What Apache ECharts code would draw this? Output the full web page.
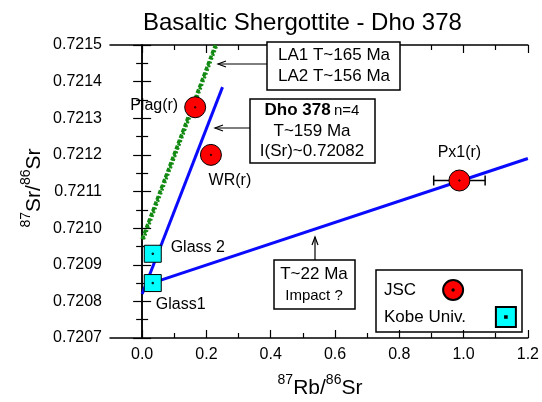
<!DOCTYPE html>
<html>
<head>
<meta charset="utf-8">
<script src="https://cdn.jsdelivr.net/npm/echarts@6/dist/echarts.min.js"></script>
<style>
  html, body { margin: 0; padding: 0; background: #fff; }
  #main { width: 542px; height: 402px; }
</style>
</head>
<body>
<div id="main"></div>
<script>
// data
const jscNames = ['Plag(r)', 'WR(r)', 'Px1(r)'];
const jscRbSr = [0.165, 0.214, 0.987];
const jscSrSr = [0.72133, 0.72120, 0.72113];
const jscRbErr = [0, 0, 0.08];

const kobeNames = ['Glass 2', 'Glass1'];
const kobeRbSr = [0.033, 0.033];
const kobeSrSr = [0.72093, 0.72085];

// isochron lines (end points)
const iso159X = [0.0, 0.25];
const iso159Y = [0.72082, 0.721385];
const iso22X = [0.03, 1.2];
const iso22Y = [0.72085, 0.72119];
const la1X = [0.0, 0.228];
const la1Y = [0.72097, 0.7215];
const la2X = [0.004, 0.232];
const la2Y = [0.72097, 0.7215];

// axis ticks
const xTicks = [0, 0.2, 0.4, 0.6, 0.8, 1.0, 1.2];
const xMinorTicks = [0.1, 0.3, 0.5, 0.7, 0.9, 1.1];

const FONT = 'Liberation Sans, Arial, sans-serif';
const CIRCLE = 'path://M10 0A10 10 0 1 1 10 20A10 10 0 1 1 10 0ZM10 9.3A0.7 0.7 0 1 1 10 10.7A0.7 0.7 0 1 1 10 9.3Z';
const SQUARE = 'path://M0 0H20V20H0ZM9.2 9.2H10.8V10.8H9.2Z';

// where each point's name sits relative to the marker
const labelOffset = {
  'Plag(r)': [-41, -2],
  'WR(r)': [19, 26],
  'Px1(r)': [0, -28],
  'Glass 2': [45, -6],
  'Glass1': [28, 22]
};

const pairs = (xs, ys) => xs.map((x, i) => [x, ys[i]]);

const chart = echarts.init(document.getElementById('main'));

const lineSeries = (name, xs, ys, color, width, type) => ({
  name: name,
  type: 'line',
  data: pairs(xs, ys),
  symbol: 'none',
  silent: true,
  lineStyle: { color: color, width: width, type: type },
  z: 2
});

const namedPoints = (names, xs, ys) => names.map((n, i) => ({
  name: n,
  value: [xs[i], ys[i]],
  label: { offset: labelOffset[n] }
}));

const pointLabel = {
  show: true,
  position: 'inside',
  formatter: '{b}',
  color: '#000',
  fontSize: 16,
  fontFamily: FONT
};

const legendBase = {
  orient: 'vertical',
  align: 'right',
  left: 384,
  padding: 0,
  itemHeight: 20,
  textStyle: { fontSize: 17, color: '#000', fontFamily: FONT }
};

const option = {
  animation: false,
  backgroundColor: '#fff',
  title: {
    text: 'Basaltic Shergottite - Dho 378',
    left: 143,
    top: 11,
    padding: 0,
    textStyle: { fontSize: 24, fontWeight: 'normal', color: '#000', fontFamily: FONT }
  },
  legend: [
    Object.assign({}, legendBase, { data: ['JSC'], top: 279, itemWidth: 64 }),
    Object.assign({}, legendBase, { data: ['Kobe Univ.'], top: 306, itemWidth: 70 })
  ],
  grid: { left: 110, right: 12, top: 45, bottom: 64 },
  xAxis: [
    {
      type: 'value', position: 'bottom', min: -0.1, max: 1.2,
      axisLine: { lineStyle: { color: '#000', width: 1.5 } },
      axisTick: { inside: true, length: 8, customValues: xTicks, lineStyle: { color: '#000', width: 1.2 } },
      axisLabel: {
        customValues: xTicks, margin: 9, color: '#000', fontSize: 16, fontFamily: FONT,
        formatter: v => v.toFixed(1)
      },
      splitLine: { show: false }
    },
    {
      type: 'value', position: 'bottom', min: -0.1, max: 1.2,
      axisLine: { show: false },
      axisTick: { inside: true, length: 5, customValues: xMinorTicks, lineStyle: { color: '#000', width: 1.2 } },
      axisLabel: { show: false },
      splitLine: { show: false }
    },
    {
      type: 'value', position: 'top', min: -0.1, max: 1.2,
      axisLine: { lineStyle: { color: '#000', width: 1.5 } },
      axisTick: { inside: true, length: 8, customValues: xTicks, lineStyle: { color: '#000', width: 1.2 } },
      axisLabel: { show: false },
      splitLine: { show: false }
    },
    {
      type: 'value', position: 'top', min: -0.1, max: 1.2,
      axisLine: { show: false },
      axisTick: { inside: true, length: 5, customValues: xMinorTicks, lineStyle: { color: '#000', width: 1.2 } },
      axisLabel: { show: false },
      splitLine: { show: false }
    }
  ],
  yAxis: [
    {
      type: 'value', position: 'left', min: 0.7207, max: 0.7215, interval: 0.0001,
      axisLine: { show: true, lineStyle: { color: '#000', width: 1.5 } },
      axisTick: { show: true, inside: true, length: 9, lineStyle: { color: '#000', width: 1.2 } },
      minorTick: { show: true, splitNumber: 2, length: 6, lineStyle: { color: '#000', width: 1.2 } },
      axisLabel: { margin: 8, color: '#000', fontSize: 16, fontFamily: FONT, formatter: v => v.toFixed(4) },
      splitLine: { show: false }
    },
    {
      type: 'value', position: 'right', min: 0.7207, max: 0.7215, interval: 0.0001,
      axisLine: { show: true, lineStyle: { color: '#000', width: 1.5 } },
      axisTick: { show: true, inside: true, length: 9, lineStyle: { color: '#000', width: 1.2 } },
      minorTick: { show: true, splitNumber: 2, length: 6, lineStyle: { color: '#000', width: 1.2 } },
      axisLabel: { show: false },
      splitLine: { show: false }
    }
  ],
  series: [
    lineSeries('LA1', la1X, la1Y, '#138a13', 3.5, [4, 2]),
    lineSeries('LA2', la2X, la2Y, '#138a13', 3.5, [2, 2]),
    lineSeries('T159', iso159X, iso159Y, '#0a0aff', 3, 'solid'),
    lineSeries('T22', iso22X, iso22Y, '#0a0aff', 3, 'solid'),
    {
      name: 'Px error',
      type: 'custom',
      silent: true,
      data: jscRbSr.map((x, i) => [x, jscSrSr[i], jscRbErr[i]]).filter(d => d[2] > 0),
      renderItem: (params, api) => {
        const x = api.value(0), y = api.value(1), e = api.value(2);
        const a = api.coord([x - e, y]);
        const b = api.coord([x + e, y]);
        const st = { stroke: '#000', lineWidth: 1.5 };
        return {
          type: 'group',
          children: [
            { type: 'line', shape: { x1: a[0], y1: a[1], x2: b[0], y2: b[1] }, style: st },
            { type: 'line', shape: { x1: a[0], y1: a[1] - 5, x2: a[0], y2: a[1] + 5 }, style: st },
            { type: 'line', shape: { x1: b[0], y1: b[1] - 5, x2: b[0], y2: b[1] + 5 }, style: st }
          ]
        };
      },
      z: 3
    },
    {
      name: 'JSC',
      type: 'scatter',
      symbol: CIRCLE,
      symbolSize: 21,
      symbolKeepAspect: true,
      itemStyle: { color: '#ff0000', borderColor: '#000', borderWidth: 1, opacity: 1 },
      label: pointLabel,
      data: namedPoints(jscNames, jscRbSr, jscSrSr),
      z: 5
    },
    {
      name: 'Kobe Univ.',
      type: 'scatter',
      symbol: SQUARE,
      symbolSize: 17,
      symbolKeepAspect: true,
      itemStyle: { color: '#00ffff', borderColor: '#000', borderWidth: 1, opacity: 1 },
      label: pointLabel,
      data: namedPoints(kobeNames, kobeRbSr, kobeSrSr),
      z: 5
    }
  ],
  graphic: [
    // y axis title
    {
      type: 'text', x: 32, y: 188, rotation: Math.PI / 2,
      style: {
        text: '{s|87}{m|Sr/}{s|86}{m|Sr}',
        align: 'center', verticalAlign: 'middle',
        rich: {
          s: { fontSize: 14, fontFamily: FONT, fill: '#000', verticalAlign: 'top', lineHeight: 26 },
          m: { fontSize: 21, fontFamily: FONT, fill: '#000', verticalAlign: 'bottom', lineHeight: 26 }
        }
      }
    },
    // x axis title
    {
      type: 'text', x: 320, y: 386,
      style: {
        text: '{s|87}{m|Rb/}{s|86}{m|Sr}',
        align: 'center', verticalAlign: 'middle',
        rich: {
          s: { fontSize: 14, fontFamily: FONT, fill: '#000', verticalAlign: 'top', lineHeight: 26 },
          m: { fontSize: 21, fontFamily: FONT, fill: '#000', verticalAlign: 'bottom', lineHeight: 26 }
        }
      }
    },
    // legend frame
    {
      type: 'rect', shape: { x: 376, y: 270, width: 146, height: 62 },
      style: { fill: 'rgba(0,0,0,0)', stroke: '#000', lineWidth: 1.5 }, z: 1
    },
    // LA box
    {
      type: 'rect', shape: { x: 267, y: 42, width: 133, height: 48 },
      style: { fill: '#fff', stroke: '#000', lineWidth: 1.5 }, z: 10
    },
    {
      type: 'text', x: 334, y: 66, z: 11,
      style: {
        text: 'LA1 T~165 Ma\nLA2 T~156 Ma', align: 'center', verticalAlign: 'middle',
        fontSize: 17, lineHeight: 21, fontFamily: FONT, fill: '#000'
      }
    },
    { type: 'line', shape: { x1: 267, y1: 64, x2: 218, y2: 64 }, style: { stroke: '#000', lineWidth: 1.2 }, z: 10 },
    { type: 'polyline', shape: { points: [[226, 61], [218, 64], [226, 67]] }, style: { stroke: '#000', lineWidth: 1.2, fill: null }, z: 10 },
    // Dho 378 box
    {
      type: 'rect', shape: { x: 250, y: 99, width: 125, height: 64 },
      style: { fill: '#fff', stroke: '#000', lineWidth: 1.5 }, z: 10
    },
    {
      type: 'text', x: 312, y: 131, z: 11,
      style: {
        text: '{b|Dho 378} {n|n=4}\n{r|T~159 Ma}\n{r|I(Sr)~0.72082}',
        align: 'center', verticalAlign: 'middle',
        rich: {
          b: { fontSize: 17, fontWeight: 'bold', fontFamily: FONT, fill: '#000', lineHeight: 20.5 },
          n: { fontSize: 15, fontFamily: FONT, fill: '#000', lineHeight: 20.5 },
          r: { fontSize: 17, fontFamily: FONT, fill: '#000', lineHeight: 20.5 }
        }
      }
    },
    { type: 'line', shape: { x1: 250, y1: 128, x2: 215, y2: 128 }, style: { stroke: '#000', lineWidth: 1.2 }, z: 10 },
    { type: 'polyline', shape: { points: [[223, 125], [215, 128], [223, 131]] }, style: { stroke: '#000', lineWidth: 1.2, fill: null }, z: 10 },
    // T~22 Ma box
    {
      type: 'rect', shape: { x: 274, y: 260, width: 81, height: 49 },
      style: { fill: '#fff', stroke: '#000', lineWidth: 1.5 }, z: 10
    },
    {
      type: 'text', x: 314, y: 285, z: 11,
      style: {
        text: '{a|T~22 Ma}\n{b|Impact ?}', align: 'center', verticalAlign: 'middle',
        rich: {
          a: { fontSize: 17, fontFamily: FONT, fill: '#000', lineHeight: 21 },
          b: { fontSize: 15, fontFamily: FONT, fill: '#000', lineHeight: 21 }
        }
      }
    },
    { type: 'line', shape: { x1: 315, y1: 260, x2: 315, y2: 237 }, style: { stroke: '#000', lineWidth: 1.2 }, z: 10 },
    { type: 'polyline', shape: { points: [[312, 245], [315, 237], [318, 245]] }, style: { stroke: '#000', lineWidth: 1.2, fill: null }, z: 10 }
  ]
};

chart.setOption(option);
</script>
</body>
</html>
